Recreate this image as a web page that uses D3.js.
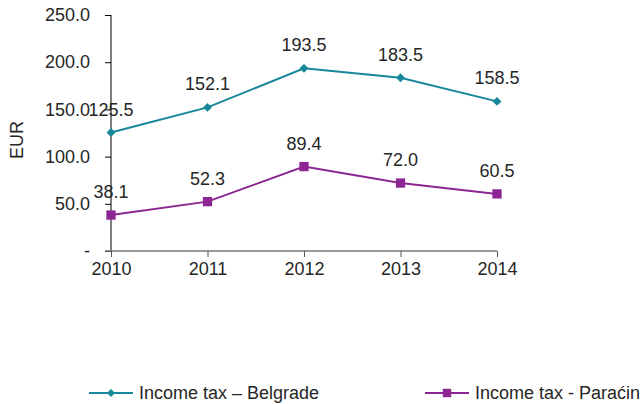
<!DOCTYPE html>
<html>
<head>
<meta charset="utf-8">
<script src="https://cdn.jsdelivr.net/npm/d3@7"></script>
<style>
  html, body { margin: 0; padding: 0; background: #fff; }
  svg { display: block; font-family: "Liberation Sans", Arial, sans-serif; }
</style>
</head>
<body>
<svg id="chart" width="642" height="404"></svg>
<script>
const years = ["2010", "2011", "2012", "2013", "2014"];
const belgrade = [125.5, 152.1, 193.5, 183.5, 158.5];
const paracin = [38.1, 52.3, 89.4, 72.0, 60.5];
const yTicks = [0, 50, 100, 150, 200, 250];
const seriesNames = ["Income tax \u2013 Belgrade", "Income tax - Paraćin"];
const seriesColors = ["#17879b", "#8c2692"];

const svg = d3.select("#chart");
const fontSize = 18;
const textColor = "#262626";

const x = d3.scalePoint().domain(years).range([111, 497]);
const y = d3.scaleLinear().domain([0, 250]).range([251, 15]);

// y axis
const yAxis = d3.axisLeft(y)
  .tickValues(yTicks)
  .tickSize(6)
  .tickPadding(15)
  .tickFormat(d => d === 0 ? "-" : d3.format(".1f")(d));
const gy = svg.append("g").attr("transform", "translate(111,0)").call(yAxis);
gy.select(".domain").attr("stroke", "#000").attr("d", `M0,${y(250)}V${y(0)}`);
gy.selectAll(".tick line").attr("stroke", "#000");
gy.selectAll(".tick text").attr("fill", textColor).style("font-size", fontSize + "px");

// x axis
const xAxis = d3.axisBottom(x).tickSize(6).tickPadding(5);
const gx = svg.append("g").attr("transform", `translate(0,${y(0)})`).call(xAxis);
gx.select(".domain").attr("stroke", "#777").attr("stroke-width", 1.5).attr("d", `M105,0H497`);
gx.selectAll(".tick line").attr("stroke", "#555");
gx.selectAll(".tick text").attr("fill", textColor).style("font-size", fontSize + "px");

// axis title
svg.append("text")
  .attr("transform", "translate(23,140) rotate(-90)")
  .attr("text-anchor", "middle")
  .attr("fill", textColor)
  .style("font-size", fontSize + "px")
  .text("EUR");

const line = d3.line().x((d, i) => x(years[i])).y(d => y(d));

function drawSeries(values, color, marker) {
  svg.append("path")
    .datum(values)
    .attr("fill", "none")
    .attr("stroke", color)
    .attr("stroke-width", 2)
    .attr("d", line);
  const sym = marker === "diamond"
    ? d3.symbol().type(d3.symbolDiamond2).size(50)
    : d3.symbol().type(d3.symbolSquare2).size(110);
  svg.append("g").selectAll("path")
    .data(values)
    .join("path")
    .attr("transform", (d, i) => `translate(${x(years[i])},${y(d)})`)
    .attr("fill", color)
    .attr("d", sym);
  svg.append("g").selectAll("text")
    .data(values)
    .join("text")
    .attr("x", (d, i) => x(years[i]))
    .attr("y", d => y(d) - 17)
    .attr("text-anchor", "middle")
    .attr("fill", textColor)
    .style("font-size", fontSize + "px")
    .text(d => d3.format(".1f")(d));
}

drawSeries(belgrade, seriesColors[0], "diamond");
drawSeries(paracin, seriesColors[1], "square");

// legend
const legendItems = [
  { name: seriesNames[0], color: seriesColors[0], marker: "diamond", x0: 89 },
  { name: seriesNames[1], color: seriesColors[1], marker: "square", x0: 425 }
];
const ly = 393;
legendItems.forEach(it => {
  const g = svg.append("g");
  g.append("line")
    .attr("x1", it.x0).attr("x2", it.x0 + 44)
    .attr("y1", ly).attr("y2", ly)
    .attr("stroke", it.color).attr("stroke-width", 2);
  const sym = it.marker === "diamond"
    ? d3.symbol().type(d3.symbolDiamond2).size(40)
    : d3.symbol().type(d3.symbolSquare2).size(90);
  g.append("path")
    .attr("transform", `translate(${it.x0 + 22},${ly})`)
    .attr("fill", it.color)
    .attr("d", sym);
  g.append("text")
    .attr("x", it.x0 + 50)
    .attr("y", ly)
    .attr("dy", "0.35em")
    .attr("fill", textColor)
    .style("font-size", fontSize + "px")
    .text(it.name);
});
</script>
</body>
</html>
